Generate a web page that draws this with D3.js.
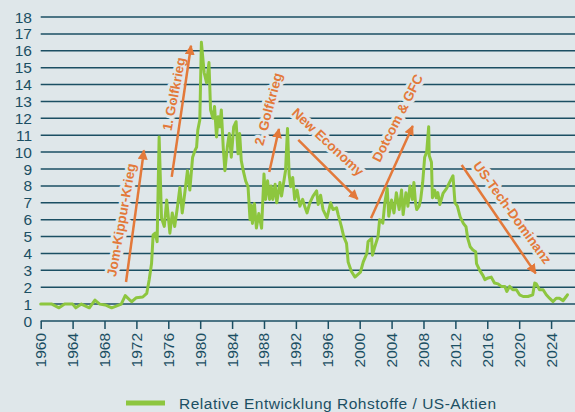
<!DOCTYPE html>
<html><head><meta charset="utf-8">
<script src="https://cdn.jsdelivr.net/npm/d3@7"></script>
<style>
html,body{margin:0;padding:0;background:#dfe7ea;}
svg{display:block;}
text{font-family:"Liberation Sans",Arial,sans-serif;}
</style></head>
<body>
<script>
// ---- data ----
const years = [1960.0,1961.4,1962.3,1963.0,1964.0,1964.4,1965.1,1966.1,1966.8,1967.4,1968.1,1968.9,1970.1,1970.6,1971.4,1972.0,1972.8,1973.3,1973.6,1973.9,1974.1,1974.35,1974.6,1974.85,1975.15,1975.5,1975.8,1976.2,1976.5,1976.8,1977.15,1977.45,1977.75,1978.1,1978.4,1978.7,1979.05,1979.35,1979.55,1979.7,1979.95,1980.15,1980.5,1980.8,1981.1,1981.3,1981.6,1981.8,1982.05,1982.25,1982.45,1982.65,1982.9,1983.1,1983.4,1983.65,1983.9,1984.2,1984.5,1984.75,1984.95,1985.15,1985.4,1985.7,1986.0,1986.25,1986.4,1986.55,1986.8,1987.05,1987.35,1987.7,1988.0,1988.2,1988.45,1988.7,1988.9,1989.1,1989.4,1989.6,1990.0,1990.2,1990.5,1990.7,1990.95,1991.15,1991.35,1991.6,1991.85,1992.15,1992.5,1992.85,1993.1,1993.4,1993.75,1994.15,1994.6,1994.8,1995.1,1995.4,1995.9,1996.35,1996.65,1997.1,1997.3,1997.7,1998.0,1998.35,1998.55,1998.95,1999.4,2000.1,2000.45,2000.9,2001.05,2001.5,2001.6,2001.9,2002.3,2002.5,2002.9,2003.15,2003.45,2003.65,2004.0,2004.3,2004.6,2004.95,2005.25,2005.45,2005.8,2006.05,2006.3,2006.6,2006.8,2007.0,2007.15,2007.45,2007.65,2007.9,2008.15,2008.4,2008.65,2008.72,2009.0,2009.12,2009.4,2009.6,2009.8,2010.05,2010.45,2010.9,2011.3,2011.7,2011.95,2012.25,2012.6,2013.0,2013.33,2013.55,2013.85,2014.2,2014.55,2014.65,2015.05,2015.45,2015.7,2016.1,2016.5,2016.9,2017.35,2017.75,2018.2,2018.45,2018.8,2019.2,2019.65,2020.05,2020.5,2021.1,2021.7,2021.95,2022.15,2022.55,2023.0,2023.4,2023.8,2024.25,2024.65,2025.05,2025.5,2025.9,2026.05];
const ratio = [1.0,1.0,0.78,1.0,1.0,0.78,1.0,0.78,1.24,1.0,0.95,0.78,1.0,1.5,1.14,1.38,1.42,1.64,2.43,3.4,5.1,5.2,4.7,10.9,6.1,5.6,7.16,5.2,6.4,5.6,6.76,7.9,6.4,7.7,8.9,7.75,9.7,10.1,10.3,11.3,11.9,16.5,14.7,14.1,15.3,12.5,12.0,12.7,10.9,12.1,11.5,12.5,10.2,8.9,10.3,11.1,9.7,11.5,11.8,9.9,11.1,9.5,8.9,8.3,7.95,6.0,6.86,5.78,6.96,5.5,6.37,5.5,8.7,7.2,8.3,7.2,8.0,7.2,8.1,7.0,8.2,7.4,8.3,8.9,11.4,8.7,7.95,8.5,7.2,7.75,6.8,7.2,6.8,6.4,7.0,7.4,7.7,6.9,7.45,6.6,6.1,7.0,6.6,6.7,6.3,5.6,5.0,4.6,3.5,2.95,2.6,2.9,3.5,4.0,4.7,4.9,3.9,4.4,5.0,6.0,5.8,7.0,7.85,6.2,7.16,6.4,7.6,6.6,7.75,6.3,7.6,6.8,8.0,7.2,8.2,7.0,6.6,6.8,7.2,8.2,9.7,10.0,11.5,9.8,9.4,7.3,7.75,7.3,7.6,6.9,7.55,7.85,8.24,8.6,7.0,6.8,6.17,5.78,5.58,4.89,4.4,4.2,4.1,3.4,3.0,2.7,2.45,2.55,2.6,2.25,2.2,2.05,2.05,1.75,2.05,1.85,1.85,1.55,1.45,1.45,1.55,2.25,2.2,1.85,1.85,1.55,1.35,1.15,1.35,1.35,1.2,1.45,1.55];
const xTicks = [1960,1964,1968,1972,1976,1980,1984,1988,1992,1996,2000,2004,2008,2012,2016,2020,2024];
const yTicks = [0,1,2,3,4,5,6,7,8,9,10,11,12,13,14,15,16,17,18];
const seriesName = "Relative Entwicklung Rohstoffe / US-Aktien";
// annotation labels with arrow start/end and label centre (data units) and angle
const annLabels = ["Jom-Kippur-Krieg","1. Golfkrieg","2. Golfkrieg","New Economy","Dotcom & GFC","US-Tech-Dominanz"];
const annArrowFrom = [[1970.7,2.31],[1976.43,8.53],[1988.66,8.82],[1992.3,10.72],[2001.42,6.08],[2012.79,9.24]];
const annArrowTo   = [[1972.95,10.1],[1978.85,16.3],[1989.88,11.37],[1999.75,7.22],[2006.65,11.55],[2022.07,2.82]];
const annTextAt    = [[1970.1,5.98],[1976.7,13.44],[1988.54,12.55],[1996.02,10.6],[2004.74,12.02],[2019.16,6.42]];
const annAngle     = [-80,-79,-75,43,-63,54];

// ---- chart ----
const W = 575, H = 412;
const BG = "#dfe7ea", TEAL = "#1b4f63", GREEN = "#8dc63f", ORANGE = "#e3793a";
const svg = d3.select("body").append("svg").attr("width", W).attr("height", H);
svg.append("rect").attr("width", W).attr("height", H).attr("fill", BG);

const x = d3.scaleLinear().domain([1960, 2027]).range([40.7, 575]);
const y = d3.scaleLinear().domain([0, 18]).range([321, 17]);

// gridlines
svg.append("g").selectAll("line").data(yTicks.filter(d => d > 0)).join("line")
  .attr("x1", 40.7).attr("x2", W)
  .attr("y1", d => y(d)).attr("y2", d => y(d))
  .attr("stroke", TEAL).attr("stroke-width", 1.5);

// y labels
svg.append("g").selectAll("text").data(yTicks).join("text")
  .attr("x", 32).attr("y", d => y(d)).attr("dy", "0.36em")
  .attr("text-anchor", "end").attr("font-size", 15.5).attr("fill", TEAL)
  .text(d => d);

// x axis (line + ticks via d3 axis, labels drawn separately, vertical)
const xAxis = d3.axisBottom(x).tickValues(xTicks).tickSize(8).tickFormat(() => "");
const gx = svg.append("g").attr("transform", `translate(0,${y(0)})`).call(xAxis);
gx.select(".domain").attr("stroke", TEAL).attr("stroke-width", 1.5).attr("d", `M40.7,0H${W}`);
gx.selectAll(".tick line").attr("stroke", TEAL).attr("stroke-width", 1.5);

svg.append("g").selectAll("text").data(xTicks).join("text")
  .attr("transform", d => `translate(${x(d)},${y(0) + 12}) rotate(180)`)
  .style("writing-mode", "vertical-rl")
  .attr("text-anchor", "end")
  .attr("font-size", 15.5).attr("fill", TEAL)
  .text(d => String(d));

// annotation labels (with halo)
const ann = annLabels.map((t, i) => ({t, from: annArrowFrom[i], to: annArrowTo[i], at: annTextAt[i], a: annAngle[i]}));
svg.append("g").selectAll("text").data(ann).join("text")
  .attr("transform", d => `translate(${x(d.at[0])},${y(d.at[1])}) rotate(${d.a})`)
  .attr("text-anchor", "middle").attr("dy", "0.35em")
  .attr("font-size", 13.5).attr("font-weight", "bold").attr("fill", ORANGE)
  .attr("stroke", BG).attr("stroke-width", 6).attr("paint-order", "stroke")
  .attr("stroke-linejoin", "round")
  .text(d => d.t);

// data line
const pts = years.map((yr, i) => [yr, ratio[i]]);
svg.append("path").datum(pts)
  .attr("fill", "none").attr("stroke", GREEN).attr("stroke-width", 3)
  .attr("stroke-linejoin", "round").attr("stroke-linecap", "round")
  .attr("d", d3.line().x(d => x(d[0])).y(d => y(d[1])));

// arrows
svg.append("defs").append("marker").attr("id", "ah")
  .attr("viewBox", "0 0 10 10").attr("refX", 9).attr("refY", 5)
  .attr("markerWidth", 4).attr("markerHeight", 4).attr("orient", "auto")
  .append("path").attr("d", "M0,0L10,5L0,10Z").attr("fill", ORANGE);
svg.append("g").selectAll("line").data(ann).join("line")
  .attr("x1", d => x(d.from[0])).attr("y1", d => y(d.from[1]))
  .attr("x2", d => x(d.to[0])).attr("y2", d => y(d.to[1]))
  .attr("stroke", ORANGE).attr("stroke-width", 2.5)
  .attr("marker-end", "url(#ah)");

// legend
const lg = svg.append("g");
lg.append("line").attr("x1", 126).attr("x2", 165).attr("y1", 403).attr("y2", 403)
  .attr("stroke", GREEN).attr("stroke-width", 5);
lg.append("text").attr("x", 179).attr("y", 408.5).attr("font-size", 15.5).attr("fill", TEAL)
  .attr("textLength", 317).text(seriesName);
</script>
</body></html>
